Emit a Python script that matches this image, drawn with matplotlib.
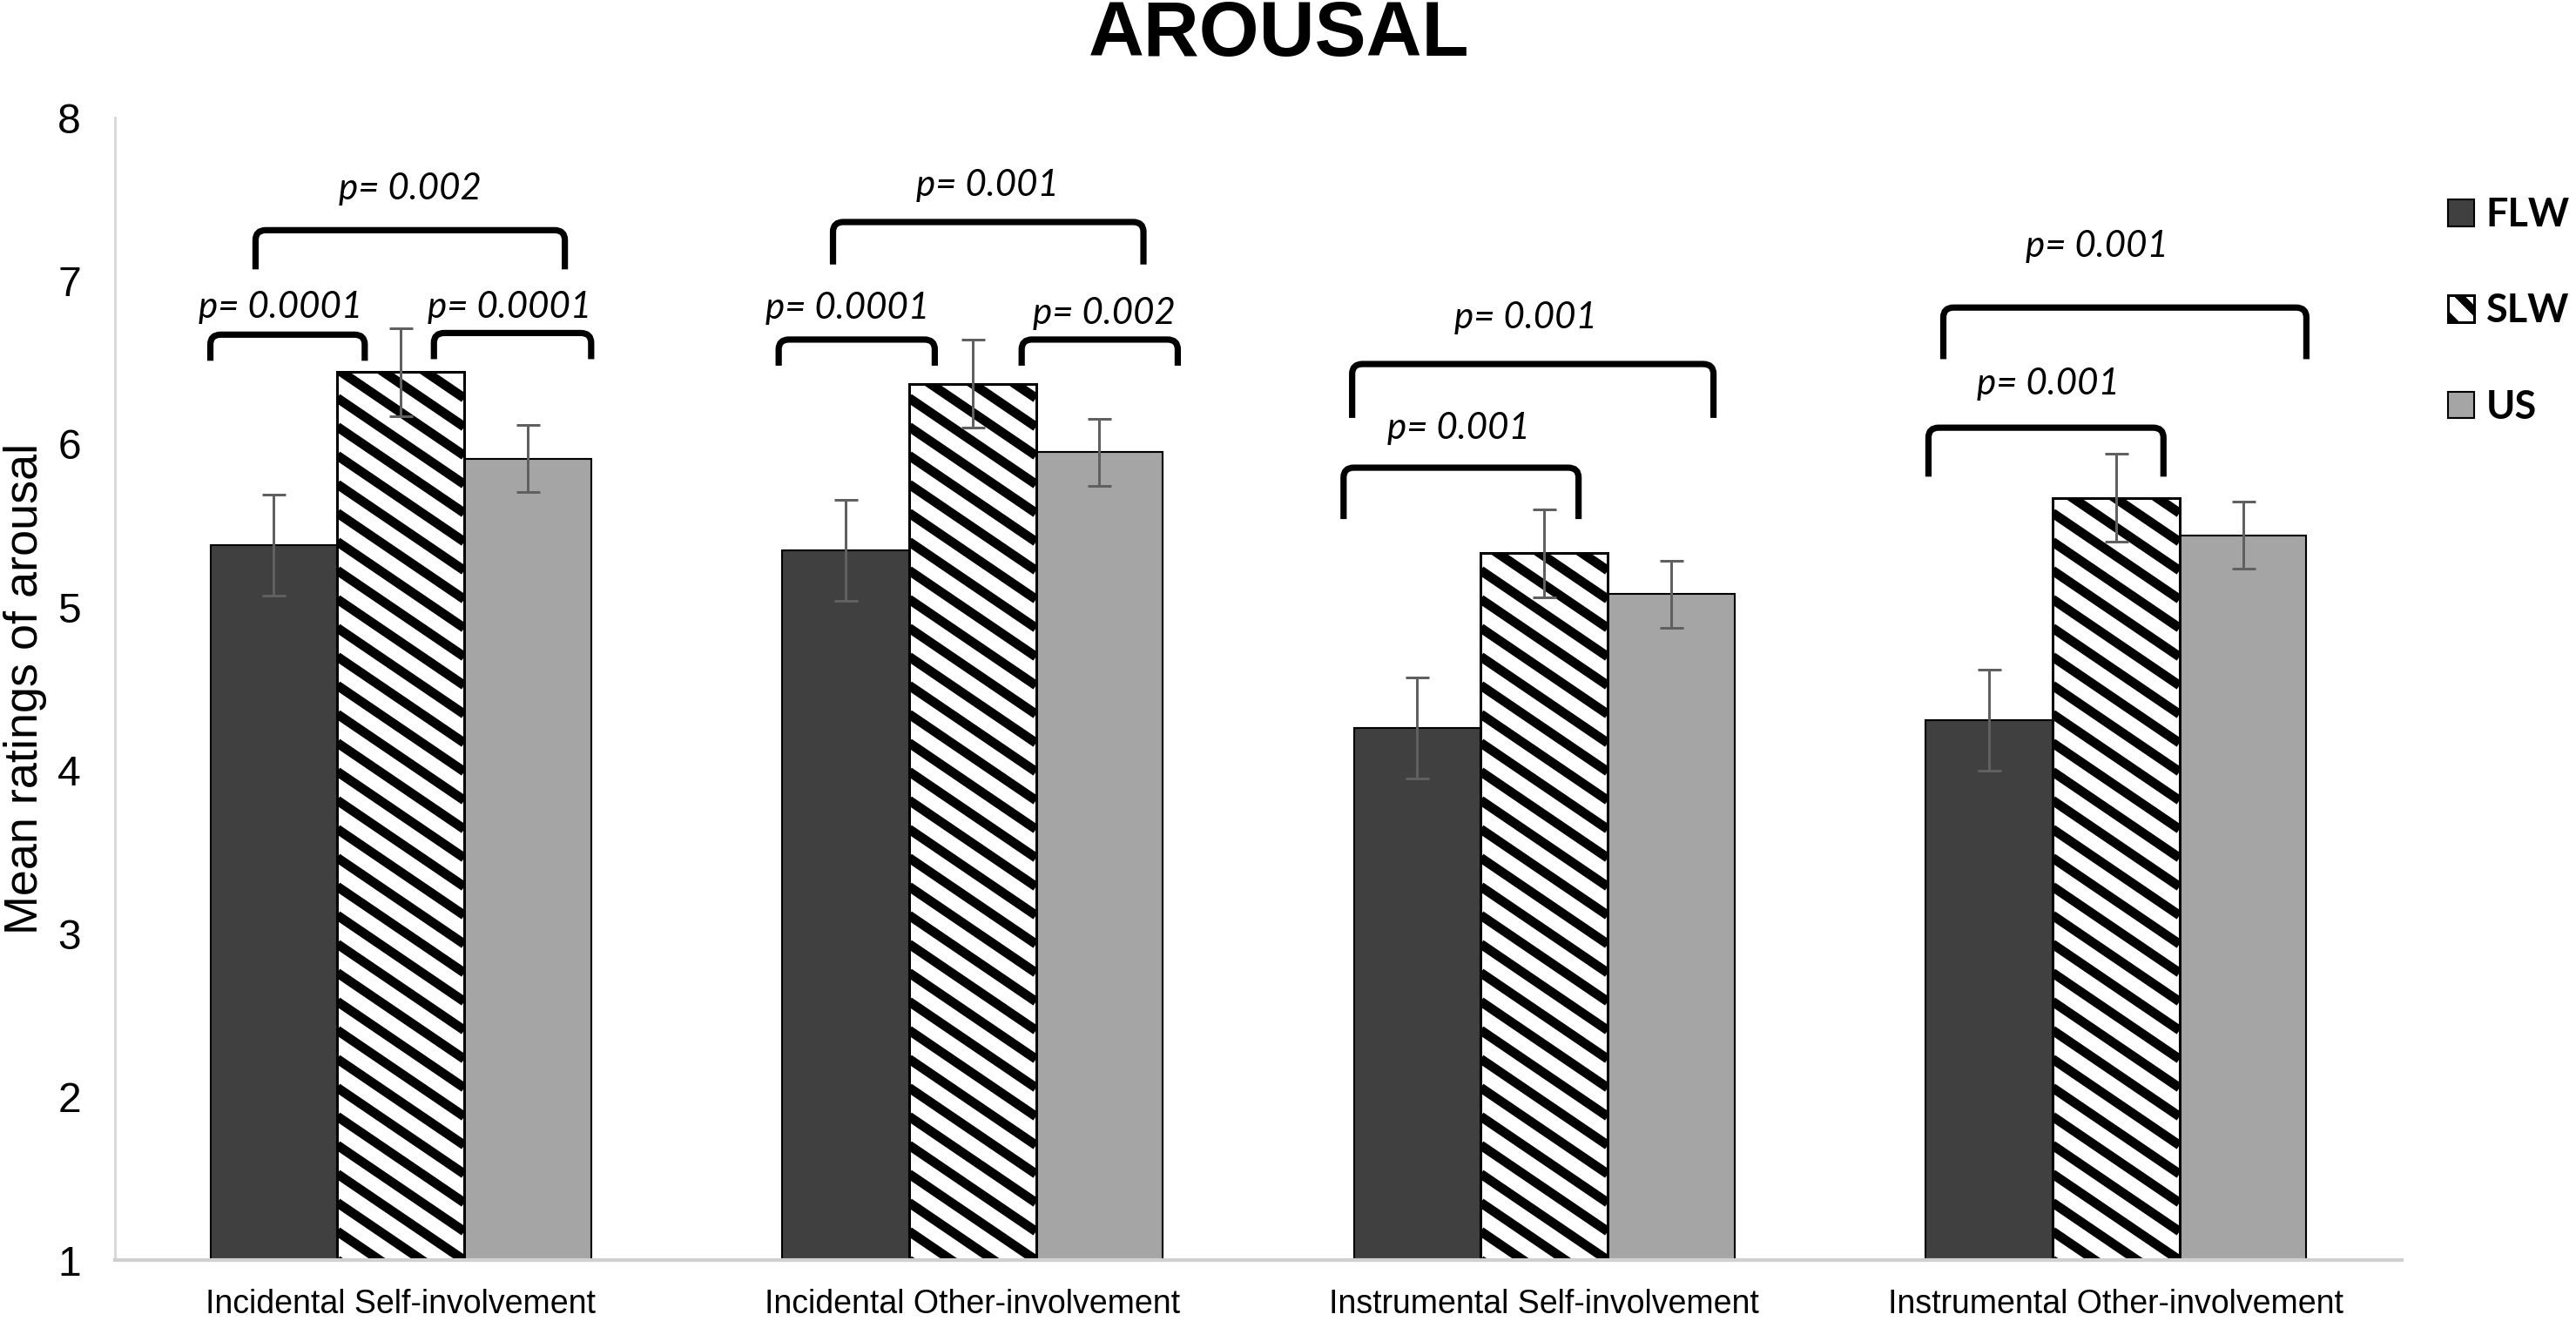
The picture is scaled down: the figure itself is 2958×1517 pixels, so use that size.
import numpy as np
import matplotlib
matplotlib.use('Agg')
from matplotlib import pyplot as plt
from matplotlib.path import Path
from matplotlib.patches import PathPatch, Patch
from matplotlib.collections import LineCollection

# ---- data ----
categories = ['Incidental Self-involvement', 'Incidental Other-involvement',
              'Instrumental Self-involvement', 'Instrumental Other-involvement']
flw = [5.38, 5.35, 4.26, 4.31]
slw = [6.44, 6.37, 5.33, 5.67]
us = [5.91, 5.95, 5.08, 5.44]
flw_err = [0.31, 0.31, 0.31, 0.31]
slw_err = [0.27, 0.27, 0.27, 0.27]
us_err = [0.205, 0.205, 0.205, 0.205]

# significance brackets: (x left, x right, y top, y bottom of legs, label, label x, label y)
brackets = [
    (-0.333, -0.063, 6.67, 6.51, 'p= 0.0001', -0.21, 6.835),
    (0.058, 0.333, 6.68, 6.52, 'p= 0.0001', 0.19, 6.835),
    (-0.254, 0.287, 7.31, 7.07, 'p= 0.002', 0.017, 7.565),
    (0.661, 0.934, 6.64, 6.48, 'p= 0.0001', 0.782, 6.83),
    (1.086, 1.359, 6.64, 6.48, 'p= 0.002', 1.23, 6.80),
    (0.756, 1.299, 7.36, 7.10, 'p= 0.001', 1.026, 7.585),
    (1.649, 2.060, 5.855, 5.54, 'p= 0.001', 1.851, 6.097),
    (1.664, 2.296, 6.49, 6.16, 'p= 0.001', 1.968, 6.771),
    (2.672, 3.083, 6.10, 5.80, 'p= 0.001', 2.882, 6.368),
    (2.698, 3.333, 6.836, 6.52, 'p= 0.001', 2.966, 7.213),
]

DPI = 216
BASE = 1
plt.rcParams['hatch.linewidth'] = 3.0
plt.rcParams['hatch.color'] = 'black'

fig = plt.figure(figsize=(2958 / DPI, 1517 / DPI), dpi=DPI)
ax = fig.add_axes([0.0446, 0.0461, 0.8878, 0.8649])
ax.set_xlim(-0.5, 3.5)
ax.set_ylim(1, 8)

x = np.arange(len(categories))
w = 0.222
err_kw = dict(fmt='none', ecolor='#606060', elinewidth=1.0, capsize=4.5, capthick=1.0)

b1 = ax.bar(x - w, np.array(flw) - BASE, w, bottom=BASE, color='#404040',
            edgecolor='black', linewidth=0.7, label='FLW')
b2 = ax.bar(x, np.array(slw) - BASE, w, bottom=BASE, color='white',
            edgecolor='black', linewidth=1.0, label='SLW')
b3 = ax.bar(x + w, np.array(us) - BASE, w, bottom=BASE, color='#A5A5A5',
            edgecolor='black', linewidth=0.7, label='US')

# diagonal stripes for SLW (shallower than the 45 deg built-in hatch)
period, slope = 33.0, 0.68   # pixels
for bar in b2:
    bb = bar.get_window_extent()
    c = np.arange(bb.y0, bb.y1 + slope * bb.width + period, period)
    segs = [[(bb.x0, ci), (bb.x1, ci - slope * bb.width)] for ci in c]
    lc = LineCollection(segs, colors='black', linewidths=3.6, transform=None,
                        zorder=bar.get_zorder())
    ax.add_collection(lc, autolim=False)
    lc.set_clip_path(bar)
    # redraw the outline on top of the stripes
    ax.add_patch(plt.Rectangle(bar.get_xy(), bar.get_width(), bar.get_height(), fill=False,
                               edgecolor='black', linewidth=1.0, zorder=bar.get_zorder() + 0.1))

ax.errorbar(x - w, flw, yerr=flw_err, **err_kw)
ax.errorbar(x, slw, yerr=slw_err, **err_kw)
ax.errorbar(x + w, us, yerr=us_err, **err_kw)

# brackets with rounded top corners
rx, ry = 0.018, 0.06
for x0, x1, yt, yb, lab, lx, ly in brackets:
    verts = [(x0, yb), (x0, yt - ry), (x0, yt), (x0 + rx, yt),
             (x1 - rx, yt), (x1, yt), (x1, yt - ry), (x1, yb)]
    codes = [Path.MOVETO, Path.LINETO, Path.CURVE3, Path.CURVE3,
             Path.LINETO, Path.CURVE3, Path.CURVE3, Path.LINETO]
    ax.add_patch(PathPatch(Path(verts, codes), fill=False, edgecolor='black',
                           linewidth=2.4, capstyle='butt', joinstyle='round', clip_on=False))
    ax.text(lx, ly, lab, ha='center', va='center', fontsize=14, style='italic',
            family='Lato', clip_on=False)

ax.set_yticks(range(1, 9))
ax.set_xticks(x, categories)
ax.tick_params(axis='both', length=0)
ax.tick_params(axis='y', labelsize=16, pad=13)
ax.tick_params(axis='x', labelsize=12.5, pad=11)
for t in ax.get_xticklabels() + ax.get_yticklabels():
    t.set_family('Liberation Sans')

for s in ['top', 'right']:
    ax.spines[s].set_visible(False)
ax.spines['left'].set_color('#D9D9D9')
ax.spines['left'].set_linewidth(1.0)
ax.spines['bottom'].set_color('#D0D0D0')
ax.spines['bottom'].set_linewidth(1.4)

ax.set_ylabel('Mean ratings of arousal', fontsize=18, family='Liberation Sans', labelpad=4)

fig.text(0.4963, 0.973, 'AROUSAL', ha='center', va='center', fontsize=29.5,
         fontweight='bold', family='Liberation Sans')

slw_handle = Patch(facecolor='white', edgecolor='black', linewidth=1.0, hatch='\\\\', label='SLW')
fig.legend(handles=[b1, slw_handle, b3], loc='upper left', bbox_to_anchor=(0.9503, 0.851),
           frameon=False, prop={'family': 'Lato', 'weight': 'bold', 'size': 15},
           handlelength=0.67, handleheight=0.67, handletextpad=0.3,
           labelspacing=1.52, borderpad=0, borderaxespad=0)

fig.savefig('out.png', dpi=DPI)
